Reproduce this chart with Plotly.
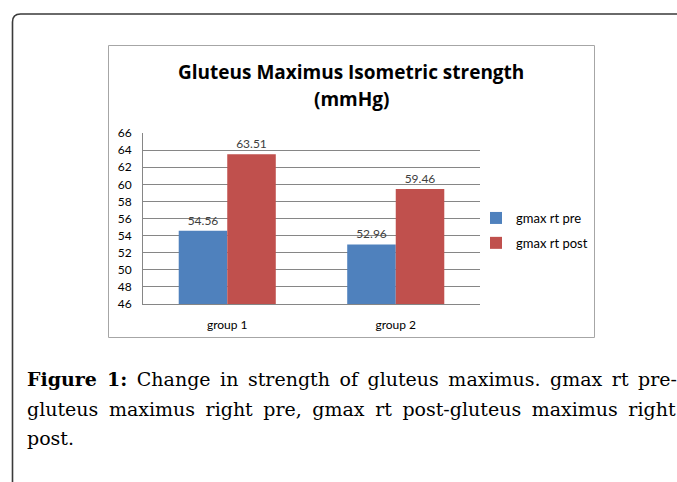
import plotly.graph_objects as go

W, H = 677, 482

categories = ["group 1", "group 2"]
series_names = ["gmax rt pre", "gmax rt post"]
pre_values = [54.56, 52.96]
post_values = [63.51, 59.46]
series_colors = ["#4F81BD", "#C0504D"]
y_ticks = [46, 48, 50, 52, 54, 56, 58, 60, 62, 64, 66]
title_lines = ["Gluteus Maximus Isometric strength", "(mmHg)"]
caption_lines = [
    "<b>Figure 1:</b> Change in strength of gluteus maximus. gmax rt pre-",
    "gluteus maximus right pre, gmax rt post-gluteus maximus right",
    "post.",
]
caption_word_spacing = [3.5, 4.5, 0]


def px(x):
    return x / W


def py(y):
    return 1 - y / H


CH = "Lato"

fig = go.Figure()
for name, vals, col in zip(series_names, [pre_values, post_values], series_colors):
    fig.add_trace(go.Bar(
        x=categories, y=vals, name=name, legendgroup=name,
        marker=dict(color=col, line=dict(width=0)),
        text=[f"{v:.2f}" for v in vals], textposition="outside",
        textfont=dict(family=CH, size=12, color="#404040"),
        cliponaxis=False,
    ))

shapes = [
    # outer frame with rounded corner
    dict(type="path", xref="paper", yref="paper",
         path=f"M {px(12.5)} {py(482)} L {px(12.5)} {py(22)} Q {px(12.5)} {py(14)} {px(20.5)} {py(14)} L {px(677)} {py(14)}",
         line=dict(color="#3a3a3a", width=1.6)),
    # chart box
    dict(type="rect", xref="paper", yref="paper",
         x0=px(108.5), x1=px(594.5), y0=py(45.5), y1=py(337.5),
         line=dict(color="#a6a6a6", width=1)),
]

annotations = [
    dict(xref="paper", yref="paper", x=px(351), y=py(72), text=title_lines[0],
         showarrow=False, xanchor="center", yanchor="middle",
         font=dict(family="Open Sans", size=19, color="#000000", weight="bold")),
    dict(xref="paper", yref="paper", x=px(351), y=py(99), text=title_lines[1],
         showarrow=False, xanchor="center", yanchor="middle",
         font=dict(family="Open Sans", size=19, color="#000000", weight="bold")),
]
cap_y = [379, 409, 438]
for t, yy, ws in zip(caption_lines, cap_y, caption_word_spacing):
    annotations.append(dict(
        xref="paper", yref="paper", x=px(25), y=py(yy),
        text=f'<span style="word-spacing:{ws}px">{t}</span>',
        showarrow=False, xanchor="left", yanchor="middle",
        font=dict(family="DejaVu Serif", size=19, color="#000000")))

fig.update_layout(
    width=W, height=H,
    margin=dict(l=0, r=0, t=0, b=0, autoexpand=False),
    paper_bgcolor="white", plot_bgcolor="white",
    barmode="group", bargap=0.424, bargroupgap=0,
    showlegend=True,
    legend=dict(x=px(476), y=py(203), xanchor="left", yanchor="top",
                font=dict(family=CH, size=13, color="#000000"),
                tracegroupgap=5, itemwidth=30, bgcolor="rgba(0,0,0,0)"),
    shapes=shapes, annotations=annotations,
    xaxis=dict(domain=[px(143), px(480)], showgrid=False,
               showline=True, linecolor="#868686", linewidth=1,
               ticks="", tickfont=dict(family=CH, size=12, color="#000000"),
               ticklabelstandoff=10, fixedrange=True),
    yaxis=dict(domain=[py(304), py(133)], range=[46, 66], tickvals=y_ticks,
               showgrid=True, gridcolor="#868686", gridwidth=1,
               showline=True, linecolor="#868686", linewidth=1,
               ticks="", tickfont=dict(family=CH, size=12, color="#000000"),
               ticklabelstandoff=8, zeroline=False, fixedrange=True),
)

fig.write_html(
    "out.html",
    config={"displayModeBar": False},
    post_script="document.body.style.margin='0';document.body.style.overflow='hidden';",
)
